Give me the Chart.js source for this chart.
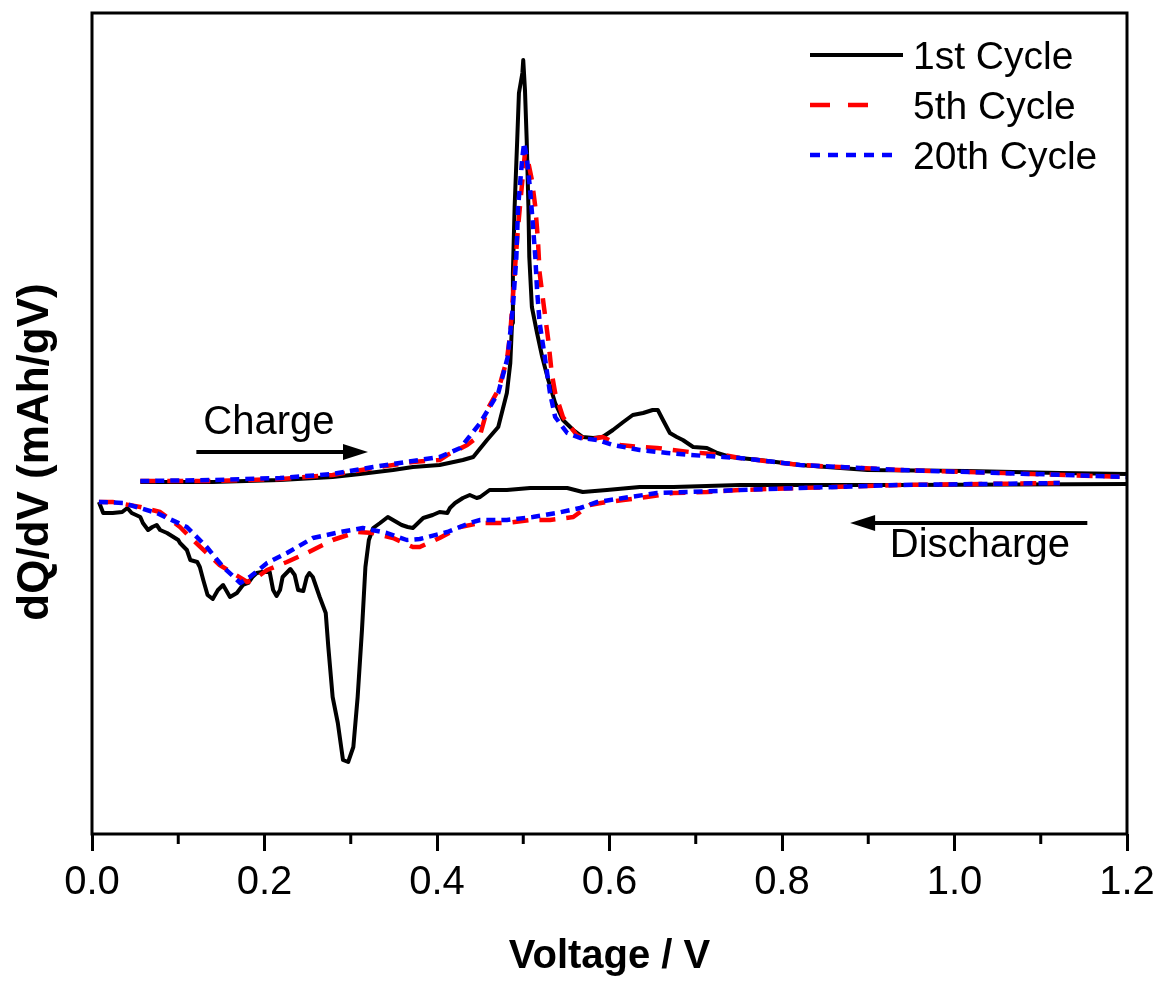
<!DOCTYPE html>
<html>
<head>
<meta charset="utf-8">
<script src="https://cdn.jsdelivr.net/npm/chart.js@4.4.1/dist/chart.umd.min.js"></script>
<style>
  html, body { margin: 0; padding: 0; background: #fff; }
  #wrap { width: 1163px; height: 981px; }
</style>
</head>
<body>
<div id="wrap"><canvas id="chart" width="1163" height="981"></canvas></div>
<script>
// [voltage (V), dQ/dV (arb. units)]
const cycle1Charge = [
  [0.056, 9], [0.140, 9], [0.218, 15], [0.279, 24], [0.311, 33], [0.349, 45], [0.372, 54],
  [0.403, 60], [0.430, 75], [0.442, 84], [0.458, 135], [0.471, 174], [0.481, 276], [0.485, 366],
  [0.487, 486], [0.488, 636], [0.490, 834], [0.493, 1035], [0.495, 1176], [0.499, 1236],
  [0.500, 1275], [0.502, 1185], [0.504, 1035], [0.506, 834], [0.507, 684], [0.510, 534],
  [0.516, 456], [0.522, 384], [0.529, 315], [0.537, 246], [0.546, 195], [0.558, 165],
  [0.569, 144], [0.581, 141], [0.592, 144], [0.604, 165], [0.616, 189], [0.627, 210],
  [0.639, 216], [0.650, 225], [0.656, 225], [0.662, 195], [0.670, 156], [0.678, 144],
  [0.685, 135], [0.697, 114], [0.713, 111], [0.725, 96], [0.740, 84], [0.774, 75],
  [0.821, 60], [0.899, 45], [1.014, 42], [1.122, 36], [1.200, 33]
];
const cycle1Discharge = [
  [0.008, -51], [0.013, -84], [0.024, -84], [0.035, -81], [0.041, -69], [0.046, -84],
  [0.056, -96], [0.059, -114], [0.065, -135], [0.070, -126], [0.075, -120], [0.079, -135],
  [0.087, -144], [0.100, -165], [0.102, -174], [0.110, -195], [0.114, -225], [0.122, -231],
  [0.125, -246], [0.129, -285], [0.134, -330], [0.140, -342], [0.146, -315], [0.152, -300],
  [0.160, -336], [0.168, -324], [0.175, -300], [0.181, -294], [0.186, -276], [0.191, -264],
  [0.197, -261], [0.206, -261], [0.210, -315], [0.214, -333], [0.218, -315], [0.221, -276],
  [0.230, -252], [0.235, -270], [0.239, -315], [0.245, -318], [0.249, -276], [0.252, -264],
  [0.256, -276], [0.264, -336], [0.271, -384], [0.274, -486], [0.279, -636], [0.285, -714],
  [0.291, -825], [0.297, -831], [0.303, -786], [0.308, -636], [0.313, -435], [0.317, -246],
  [0.321, -165], [0.326, -129], [0.334, -114], [0.343, -96], [0.349, -105], [0.359, -120],
  [0.366, -126], [0.372, -129], [0.378, -114], [0.384, -99], [0.395, -90], [0.403, -81],
  [0.412, -84], [0.415, -69], [0.421, -54], [0.430, -39], [0.438, -30], [0.446, -39],
  [0.450, -36], [0.461, -15], [0.481, -15], [0.508, -9], [0.551, -9], [0.569, -21],
  [0.597, -15], [0.635, -6], [0.674, -6], [0.751, 0], [0.937, 0], [1.200, 3]
];
const cycle5Charge = [
  [0.056, 12], [0.140, 12], [0.218, 18], [0.279, 30], [0.326, 51], [0.372, 69], [0.403, 75],
  [0.412, 90], [0.435, 120], [0.450, 150], [0.458, 225], [0.471, 285], [0.481, 375],
  [0.485, 456], [0.490, 636], [0.494, 774], [0.499, 915], [0.502, 996], [0.506, 966],
  [0.510, 915], [0.514, 834], [0.517, 735], [0.519, 636], [0.524, 534], [0.529, 435],
  [0.533, 336], [0.537, 276], [0.546, 204], [0.562, 150], [0.574, 135], [0.592, 144],
  [0.612, 120], [0.635, 114], [0.655, 111], [0.693, 99], [0.732, 90], [0.751, 81],
  [0.821, 60], [0.937, 45], [1.091, 33], [1.200, 24]
];
const cycle5Discharge = [
  [0.008, -51], [0.024, -51], [0.056, -66], [0.079, -81], [0.102, -126], [0.117, -165],
  [0.133, -204], [0.148, -240], [0.163, -264], [0.180, -291], [0.187, -285], [0.203, -255],
  [0.226, -231], [0.249, -204], [0.279, -165], [0.307, -141], [0.326, -144], [0.349, -159],
  [0.372, -186], [0.380, -186], [0.403, -159], [0.427, -126], [0.450, -114], [0.481, -114],
  [0.508, -105], [0.531, -105], [0.558, -96], [0.577, -60], [0.597, -51], [0.616, -45],
  [0.643, -36], [0.674, -24], [0.713, -21], [0.751, -15], [0.821, -9], [0.937, 0], [1.122, 6]
];
const cycle20Charge = [
  [0.056, 12], [0.140, 15], [0.218, 21], [0.279, 33], [0.326, 54], [0.372, 72], [0.403, 84],
  [0.427, 111], [0.450, 186], [0.471, 276], [0.482, 384], [0.488, 534], [0.492, 684],
  [0.494, 834], [0.499, 984], [0.501, 1026], [0.504, 984], [0.508, 885], [0.511, 786],
  [0.514, 684], [0.516, 585], [0.519, 486], [0.525, 384], [0.531, 276], [0.537, 204],
  [0.551, 156], [0.566, 141], [0.586, 135], [0.604, 120], [0.635, 105], [0.667, 96],
  [0.693, 90], [0.732, 84], [0.751, 81], [0.821, 60], [0.937, 45], [1.091, 33], [1.200, 24]
];
const cycle20Discharge = [
  [0.008, -51], [0.036, -54], [0.075, -84], [0.110, -126], [0.133, -186], [0.152, -246],
  [0.172, -294], [0.183, -276], [0.203, -234], [0.226, -204], [0.256, -159], [0.288, -141],
  [0.314, -129], [0.342, -144], [0.365, -165], [0.380, -162], [0.412, -141], [0.438, -114],
  [0.450, -105], [0.481, -105], [0.511, -96], [0.539, -84], [0.566, -69], [0.586, -51],
  [0.616, -39], [0.655, -24], [0.693, -21], [0.751, -15], [0.821, -9], [0.937, 0], [1.122, 6]
];

const seriesLabels = ['1st Cycle', '5th Cycle', '20th Cycle'];
const xTickMinor = [0.1, 0.3, 0.5, 0.7, 0.9, 1.1];
const xTitle = 'Voltage / V';
const yTitle = 'dQ/dV (mAh/gV)';
const arrowNotes = [
  { text: 'Charge', from: [0.121, 99], to: [0.320, 99], textAt: [0.129, 153] },
  { text: 'Discharge', from: [1.154, -114], to: [0.879, -114], textAt: [0.925, -216] }
];

const FONT = "'Liberation Sans', Arial, Helvetica, sans-serif";

// legend samples: dash used in the key and length of the sample line
const styles = [
  { color: '#000000', dash: [], keyDash: [], keyLen: 93, width: 4, order: 3 },
  { color: '#ff0000', dash: [16, 11], keyDash: [20, 18], keyLen: 60, width: 4.5, order: 2 },
  { color: '#0000ff', dash: [9, 6], keyDash: [10, 8], keyLen: 83, width: 4.5, order: 1 }
];
const branches = [
  [cycle1Charge, cycle1Discharge],
  [cycle5Charge, cycle5Discharge],
  [cycle20Charge, cycle20Discharge]
];

const toPoints = arr => arr.map(p => ({ x: p[0], y: p[1] }));

const datasets = [];
branches.forEach((pair, i) => {
  pair.forEach((branch, j) => {
    const s = styles[i];
    datasets.push({
      label: seriesLabels[i] + (j ? ' (discharge)' : ''),
      data: toPoints(branch),
      borderColor: s.color,
      backgroundColor: s.color,
      borderWidth: s.width,
      borderDash: s.dash,
      borderJoinStyle: 'round',
      pointRadius: 0,
      tension: 0,
      fill: false,
      order: s.order
    });
  });
});

// frame, minor ticks, legend, arrows and the y title
const decor = {
  id: 'decor',
  afterDatasetsDraw(chart) {
    const { ctx, chartArea: a, scales } = chart;
    const x = scales.x, y = scales.y;
    ctx.save();

    ctx.strokeStyle = '#000';
    ctx.lineWidth = 3;
    ctx.setLineDash([]);
    ctx.strokeRect(a.left, a.top, a.right - a.left, a.bottom - a.top);

    xTickMinor.forEach(v => {
      const px = x.getPixelForValue(v);
      ctx.beginPath();
      ctx.moveTo(px, a.bottom);
      ctx.lineTo(px, a.bottom + 10);
      ctx.stroke();
    });

    // legend
    ctx.font = '39px ' + FONT;
    ctx.textBaseline = 'alphabetic';
    ctx.textAlign = 'left';
    const lx0 = a.right - 317, tx = a.right - 214;
    seriesLabels.forEach((lab, i) => {
      const ly = a.top + 42 + i * 50;
      const s = styles[i];
      ctx.strokeStyle = s.color;
      ctx.lineWidth = s.width;
      ctx.setLineDash(s.keyDash);
      ctx.beginPath();
      ctx.moveTo(lx0, ly);
      ctx.lineTo(lx0 + s.keyLen, ly);
      ctx.stroke();
      ctx.setLineDash([]);
      ctx.fillStyle = '#000';
      ctx.fillText(lab, tx, ly + 14);
    });

    // arrows with notes
    ctx.font = '40px ' + FONT;
    arrowNotes.forEach(n => {
      const x0 = x.getPixelForValue(n.from[0]), y0 = y.getPixelForValue(n.from[1]);
      const x1 = x.getPixelForValue(n.to[0]), y1 = y.getPixelForValue(n.to[1]);
      const dir = Math.sign(x1 - x0);
      ctx.strokeStyle = '#000';
      ctx.fillStyle = '#000';
      ctx.lineWidth = 4;
      ctx.beginPath();
      ctx.moveTo(x0, y0);
      ctx.lineTo(x1 - dir * 20, y1);
      ctx.stroke();
      ctx.beginPath();
      ctx.moveTo(x1, y1);
      ctx.lineTo(x1 - dir * 25, y1 - 8);
      ctx.lineTo(x1 - dir * 25, y1 + 8);
      ctx.closePath();
      ctx.fill();
      ctx.fillText(n.text, x.getPixelForValue(n.textAt[0]), y.getPixelForValue(n.textAt[1]));
    });

    // y title
    ctx.font = 'bold 44px ' + FONT;
    ctx.textAlign = 'center';
    ctx.textBaseline = 'middle';
    ctx.translate(36, 452);
    ctx.rotate(-Math.PI / 2);
    ctx.fillText(yTitle, 0, 0);
    ctx.restore();
  }
};

new Chart(document.getElementById('chart'), {
  type: 'line',
  data: { datasets },
  plugins: [decor],
  options: {
    responsive: false,
    animation: false,
    layout: { padding: { left: 92, right: 36, top: 13, bottom: 0 } },
    plugins: {
      legend: { display: false },
      tooltip: { enabled: false },
      title: { display: false }
    },
    scales: {
      x: {
        type: 'linear',
        min: 0,
        max: 1.2,
        border: { display: false },
        grid: {
          display: true,
          drawOnChartArea: false,
          drawTicks: true,
          tickLength: 17,
          tickWidth: 3,
          tickColor: '#000'
        },
        ticks: {
          stepSize: 0.2,
          padding: 8,
          color: '#000',
          font: { family: FONT, size: 40 },
          maxRotation: 0,
          callback: v => v.toFixed(1)
        },
        title: {
          display: true,
          text: xTitle,
          color: '#000',
          font: { family: FONT, size: 40, weight: 'bold' },
          padding: { top: 18, bottom: 0 }
        }
      },
      y: {
        type: 'linear',
        display: false,
        min: -1047,
        max: 1416
      }
    }
  }
});
</script>
</body>
</html>
